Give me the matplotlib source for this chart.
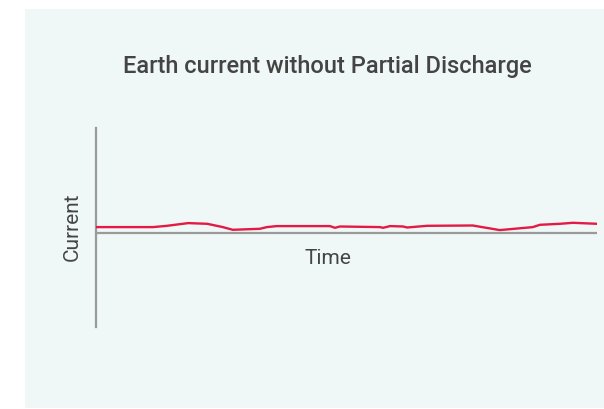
import matplotlib.pyplot as plt
from matplotlib.patches import Rectangle

# time (arbitrary units) and earth current (arbitrary units)
time = [0, 11.4, 14.2, 18.4, 22.2, 25.3, 27.3, 32.7, 34.1, 36.1, 46.7, 47.7, 48.7,
        56.7, 57.3, 58.7, 61.3, 62.1, 66.1, 75.2, 80.6, 87.2, 88.6, 92.6, 95.2, 100]
current = [6.4, 6.4, 7.7, 10.4, 9.7, 6.4, 3.7, 4.7, 6.4, 7.4, 7.4, 5.7, 7.0,
           6.4, 5.7, 7.4, 7.0, 6.0, 7.7, 8.0, 3.4, 6.4, 8.7, 9.7, 10.7, 9.7]

title = "Earth current without Partial Discharge"
x_label = "Time"
y_label = "Current"

plt.rcParams["font.family"] = ["Roboto", "DejaVu Sans"]

W, H = 604, 409
fig = plt.figure(figsize=(W / 100, H / 100), dpi=100, facecolor="white")

# light panel behind the chart
fig.patches.append(Rectangle((25 / W, 1 / H), 1 - 25 / W, 1 - 9 / H - 1 / H,
                             transform=fig.transFigure, facecolor="#eff8f7",
                             edgecolor="none", zorder=-5))

ax = fig.add_axes([96 / W, 1 - 327 / H, (597 - 96) / W, (327 - 128) / H])
ax.set_facecolor("none")

ax.plot(time, current, color="#e31a45", lw=1.7, zorder=3)
ax.axhline(0, color="#9a9a9a", lw=1.6, xmax=0.998, zorder=2)

ax.set_xlim(0, 100)
ax.set_ylim(-93.5, 105.5)
for side in ["top", "right", "bottom"]:
    ax.spines[side].set_visible(False)
ax.spines["left"].set_color("#9a9a9a")
ax.spines["left"].set_linewidth(1.6)
ax.set_xticks([])
ax.set_yticks([])

fig.text(327 / W, 1 - 67 / H, title, ha="center", va="center",
         fontsize=17, fontweight="medium", color="#444444")
fig.text(328 / W, 1 - 259 / H, x_label, ha="center", va="center",
         fontsize=15, color="#444444")
fig.text(72 / W, 1 - 227 / H, y_label, ha="center", va="center",
         rotation=90, fontsize=15, color="#444444")

fig.savefig("out.png", dpi=100, facecolor="white")
